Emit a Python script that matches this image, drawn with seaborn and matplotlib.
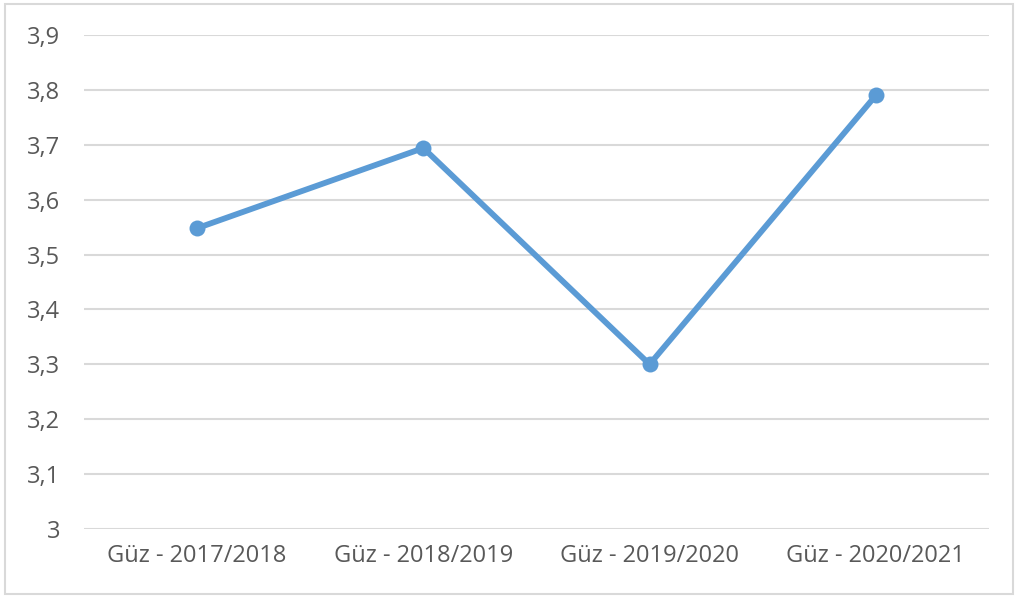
import matplotlib
matplotlib.use("Agg")
import matplotlib.pyplot as plt
import seaborn as sns
import pandas as pd
from matplotlib.patches import Rectangle

# Chart data
semesters = ["Güz - 2017/2018", "Güz - 2018/2019", "Güz - 2019/2020", "Güz - 2020/2021"]
scores = [3.548, 3.694, 3.30, 3.79]
y_ticks = [3.0, 3.1, 3.2, 3.3, 3.4, 3.5, 3.6, 3.7, 3.8, 3.9]
y_tick_labels = ["3", "3,1", "3,2", "3,3", "3,4", "3,5", "3,6", "3,7", "3,8", "3,9"]

df = pd.DataFrame({"semester": semesters, "score": scores})

sns.set_style("white")
plt.rcParams["font.family"] = ["Open Sans", "DejaVu Sans"]

fig = plt.figure(figsize=(10.18, 5.99), dpi=100)
ax = fig.add_axes([0.0825, 0.1169, 0.889, 0.8247])

sns.lineplot(data=df, x="semester", y="score", ax=ax, color="#5B9BD5",
             linewidth=4.2, marker="o", markersize=11.5, markeredgewidth=0,
             sort=False, zorder=3)

ax.set_ylim(3.0, 3.9)
ax.set_xlim(-0.5, len(semesters) - 0.5)
ax.set_yticks(y_ticks)
ax.set_yticklabels(y_tick_labels)
ax.yaxis.grid(True, color="#d9d9d9", linewidth=1.5)
ax.xaxis.grid(False)
for s in ax.spines.values():
    s.set_visible(False)
ax.tick_params(axis="both", length=0, labelsize=17, labelcolor="#595959")
ax.tick_params(axis="y", pad=17)
ax.tick_params(axis="x", pad=11)
ax.set_xlabel("")
ax.set_ylabel("")

# chart border
fig.patches.append(Rectangle((0.005, 0.008), 0.99, 0.985, transform=fig.transFigure,
                             fill=False, edgecolor="#d9d9d9", linewidth=1.5))

fig.savefig("out.png", dpi=100)
